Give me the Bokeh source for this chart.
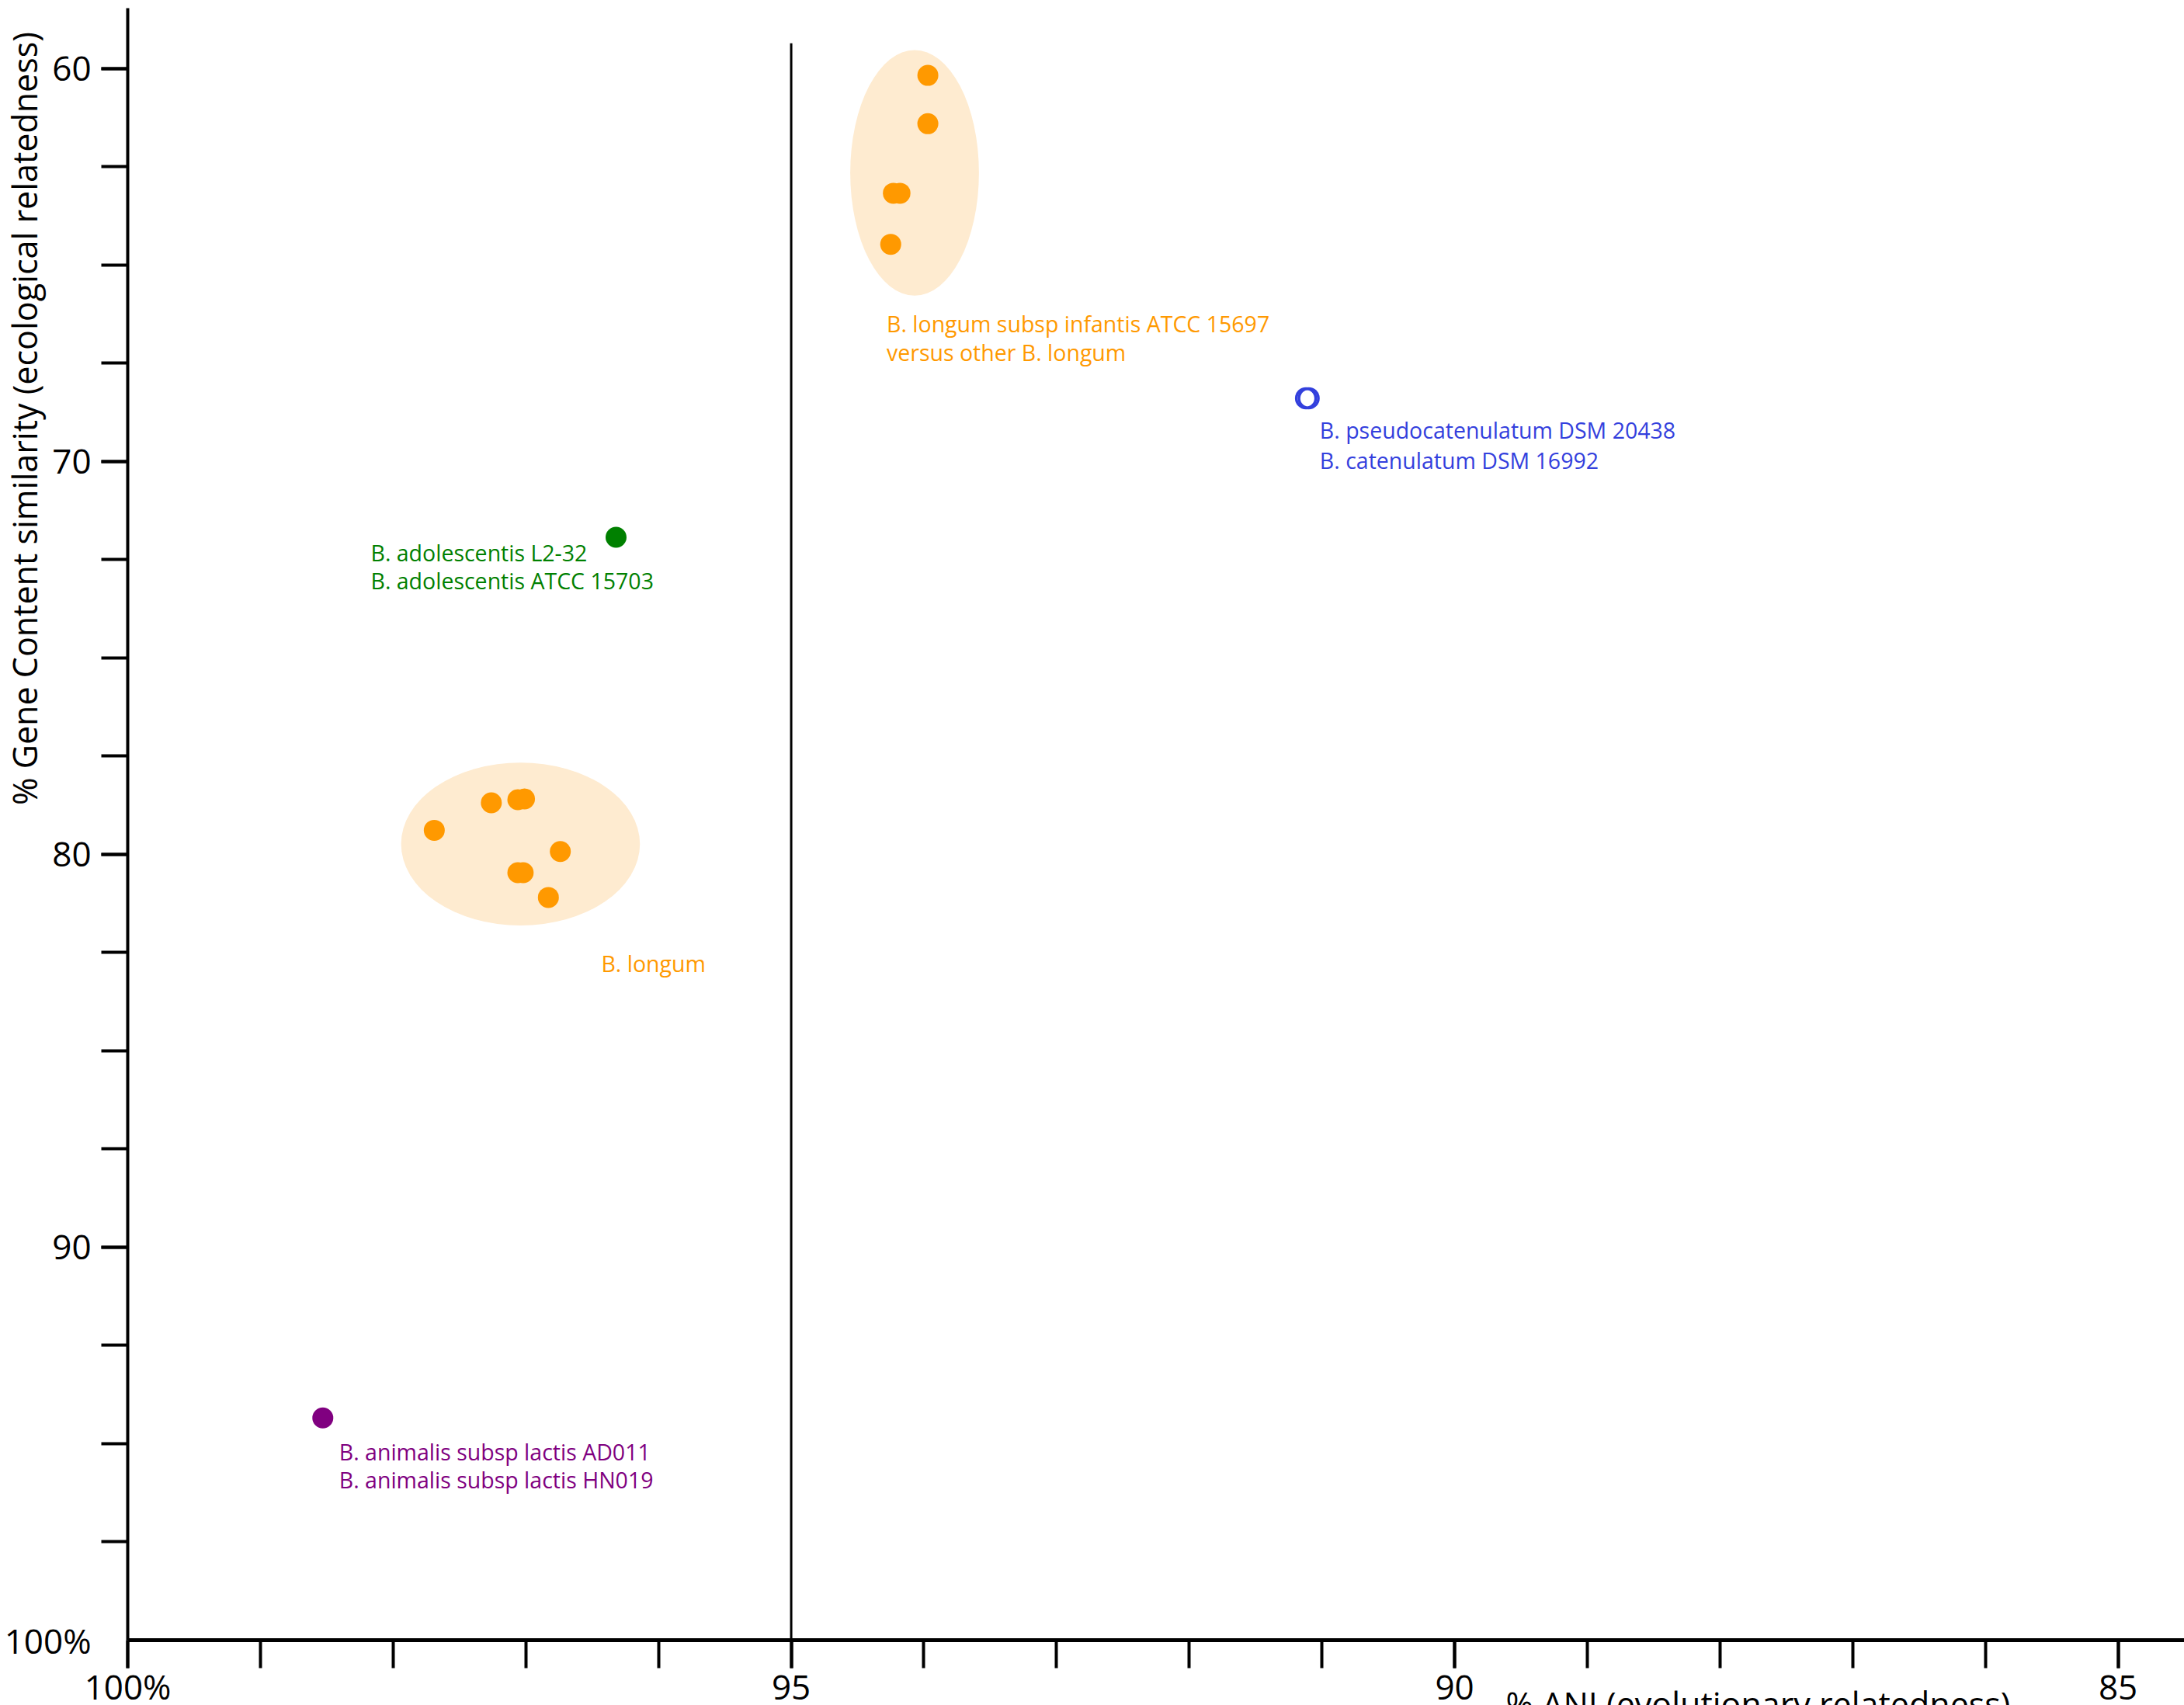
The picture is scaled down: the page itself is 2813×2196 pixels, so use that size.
import numpy as np
from bokeh.plotting import figure
from bokeh.models import Range1d, FixedTicker, ColumnDataSource
from bokeh.core.properties import value
from bokeh.embed import file_html
from bokeh.resources import INLINE

# Genome pairs: average nucleotide identity (%) vs gene content similarity (%)
infantis_ani = [93.97, 93.97, 94.23, 94.18, 94.25]
infantis_gc = [60.17, 61.40, 63.17, 63.17, 64.47]

longum_ani = [97.69, 97.26, 97.06, 97.01, 96.74, 97.06, 97.02, 96.83]
longum_gc = [79.39, 78.69, 78.61, 78.59, 79.93, 80.47, 80.47, 81.10]

catenulatum_ani = [91.12, 91.10]
catenulatum_gc = [68.39, 68.39]

adolescentis_ani = [96.32]
adolescentis_gc = [71.93]

animalis_ani = [98.53]
animalis_gc = [94.35]

# Shaded groupings: centre and span in (ANI, gene content) units
group_ani = [94.07, 97.04]
group_gc = [62.65, 79.74]
group_ani_span = [0.97, 1.80]
group_gc_span = [6.25, 4.15]

# Species boundary (95% ANI) drawn as a vertical rule
species_threshold = 95
threshold_gc_span = [59.35, 100]

# Axis extents, ticks and labels
ani_axis = (84.5, 100)
gc_axis = (58.45, 100)
x_ticks = [100, 95, 90, 85]
x_tick_labels = ["100%", "95", "90", "85"]
x_minor_ticks = [85, 86, 87, 88, 89, 90, 91, 92, 93, 94, 95, 96, 97, 98, 99, 100]
y_ticks = [60, 70, 80, 90]
y_tick_labels = ["60", "70", "80", "90"]
y_minor_ticks = [60, 62.5, 65, 67.5, 70, 72.5, 75, 77.5, 80, 82.5, 85, 87.5, 90, 92.5, 95, 97.5]
y_end_label = "100%"

x_title = "% ANI (evolutionary relatedness)"
y_title = "% Gene Content similarity (ecological relatedness)"

ORANGE = "#FF9900"
PEACH = "#FEEBD0"
BLUE = "#3340DD"
GREEN = "#008000"
PURPLE = "#800080"
FONT = "Open Sans"

# The plotting area fills the whole canvas; the axes sit at ANI = 100 and GC = 100
p = figure(
    width=2813, height=2196,
    x_range=Range1d(100.96, 84.5), y_range=Range1d(101.67, 58.26),
    output_backend="svg", toolbar_location=None,
    min_border=0,
)
p.outline_line_color = None
p.grid.visible = False
p.background_fill_color = "white"
p.border_fill_color = "white"

xa = p.xaxis[0]
xa.fixed_location = gc_axis[1]
xa.bounds = ani_axis
xa.ticker = FixedTicker(ticks=x_ticks, minor_ticks=x_minor_ticks)
xa.major_label_overrides = dict(zip(x_ticks, x_tick_labels))
xa.axis_line_width = 5
xa.axis_line_color = "black"
xa.major_tick_in = 0
xa.major_tick_out = 36
xa.major_tick_line_width = 4
xa.minor_tick_in = 0
xa.minor_tick_out = 36
xa.minor_tick_line_width = 4
xa.major_label_standoff = -6
xa.major_label_text_font = FONT
xa.major_label_text_font_size = "44px"
xa.major_label_text_color = "black"

ya = p.yaxis[0]
ya.fixed_location = ani_axis[1]
ya.bounds = gc_axis
ya.ticker = FixedTicker(ticks=y_ticks, minor_ticks=y_minor_ticks)
ya.major_label_overrides = dict(zip(y_ticks, y_tick_labels))
ya.axis_line_width = 4
ya.axis_line_color = "black"
ya.major_tick_in = 0
ya.major_tick_out = 34
ya.major_tick_line_width = 4
ya.minor_tick_in = 0
ya.minor_tick_out = 34
ya.minor_tick_line_width = 4
ya.major_label_standoff = 13
ya.major_label_text_font = FONT
ya.major_label_text_font_size = "44px"
ya.major_label_text_color = "black"

# Shaded clusters
p.ellipse(x=group_ani, y=group_gc, width=group_ani_span, height=group_gc_span,
          fill_color=PEACH, line_color=None)

# Species threshold rule
p.segment(x0=[species_threshold], y0=[threshold_gc_span[0]],
          x1=[species_threshold], y1=[threshold_gc_span[1]],
          line_color="black", line_width=3)

# Points
p.scatter(infantis_ani, infantis_gc, size=27, fill_color=ORANGE, line_color=None)
p.scatter(longum_ani, longum_gc, size=27, fill_color=ORANGE, line_color=None)
p.scatter(catenulatum_ani, catenulatum_gc, size=25, fill_color=None,
          line_color=BLUE, line_width=3.5)
p.scatter(adolescentis_ani, adolescentis_gc, size=27, fill_color=GREEN, line_color=None)
p.scatter(animalis_ani, animalis_gc, size=27, fill_color=PURPLE, line_color=None)

# Group annotations, anchored to their points / clusters with pixel offsets
annotations = [
    (group_ani[0], group_gc[0], ["B. longum subsp infantis ATCC 15697", "versus other B. longum"],
     ORANGE, -36, [194, 231]),
    (group_ani[1], group_gc[1], ["B. longum"], ORANGE, 104, [154]),
    (float(np.mean(catenulatum_ani)), catenulatum_gc[0],
     ["B. pseudocatenulatum DSM 20438", "B. catenulatum DSM 16992"], BLUE, 16, [41, 80]),
    (adolescentis_ani[0], adolescentis_gc[0],
     ["B. adolescentis L2-32", "B. adolescentis ATCC 15703"], GREEN, -316, [20, 56]),
    (animalis_ani[0], animalis_gc[0],
     ["B. animalis subsp lactis AD011", "B. animalis subsp lactis HN019"], PURPLE, 21, [44, 80]),
]
cols = dict(x=[], y=[], text=[], dx=[], dy=[], color=[])
for ax, ay, lines, col, dx, dys in annotations:
    for line, dy in zip(lines, dys):
        cols["x"].append(ax)
        cols["y"].append(ay)
        cols["text"].append(line)
        cols["dx"].append(dx)
        cols["dy"].append(dy)
        cols["color"].append(col)
p.text(x="x", y="y", text="text", x_offset="dx", y_offset="dy", text_color="color",
       text_font=value(FONT), text_font_size="28.5px", text_align="left",
       text_baseline="alphabetic", source=ColumnDataSource(cols))

# Axis titles and the "100%" at the foot of the y scale, placed from the axes' corner
corner = dict(x=[ani_axis[1]], y=[gc_axis[1]])
p.text(x=corner["x"], y=corner["y"], text=[y_end_label], x_offset=-47, y_offset=1,
       text_align="right", text_baseline="alphabetic",
       text_font=value(FONT), text_font_size="44px", text_color="black")
p.text(x=corner["x"], y=corner["y"], text=[y_title], angle=np.pi / 2,
       x_offset=-133, y_offset=-1075,
       text_align="left", text_baseline="alphabetic",
       text_font=value(FONT), text_font_size="43px", text_color="black")
p.text(x=corner["x"], y=corner["y"], text=[x_title], x_offset=1775, y_offset=82,
       text_align="left", text_baseline="alphabetic",
       text_font=value(FONT), text_font_size="43px", text_color="black")

open("out.html", "w").write(file_html(p, INLINE))
